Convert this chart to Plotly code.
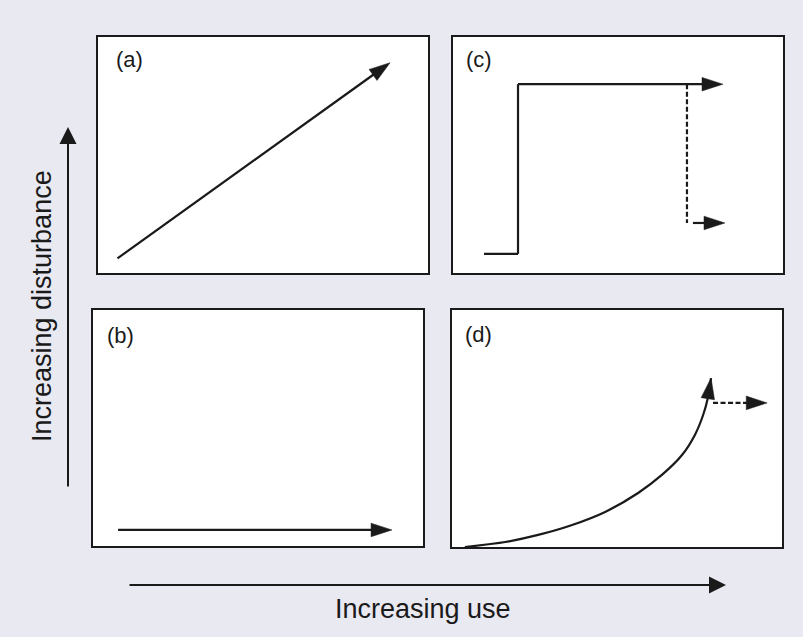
import plotly.graph_objects as go

# panel curves, in each panel's own 0-10 units
A_X = [0.59, 8.85]
A_Y = [0.62, 8.91]
B_X = [0.76, 9.06]
B_Y = [0.68, 0.68]
C_STEP_X = [0.94, 1.97, 1.97, 8.18]
C_STEP_Y = [0.81, 0.81, 8.0, 8.0]
C_DROP_X = [7.09, 7.09]
C_DROP_Y = [8.0, 2.12]
C_LOW_X = [7.27, 8.24]
C_LOW_Y = [2.12, 2.12]
D_CURVE_X = [0.39, 1.61, 2.61, 3.64, 4.64, 5.64, 6.36, 6.97, 7.36, 7.61, 7.76, 7.85]
D_CURVE_Y = [0.0, 0.21, 0.51, 0.93, 1.48, 2.28, 3.04, 3.88, 4.73, 5.57, 6.33, 7.13]
D_SHIFT_X = [7.91, 9.55]
D_SHIFT_Y = [6.08, 6.08]

PANEL_LABELS = ["(a)", "(b)", "(c)", "(d)"]
X_TITLE = "Increasing use"
Y_TITLE = "Increasing disturbance"

INK = "#1a1a1a"
BG = "#e9e9f1"
W, H = 803, 637


def arrow_line(xs, ys, axis, dash="solid", spline=False, head=True):
    n = len(xs)
    return go.Scatter(
        x=xs, y=ys, xaxis="x" + axis, yaxis="y" + axis,
        mode="lines+markers" if head else "lines",
        line=dict(color=INK, width=2.2, dash=dash, shape="spline" if spline else "linear"),
        marker=dict(symbol="arrow", size=[0] * (n - 1) + [22], angleref="previous",
                    color=INK, opacity=1, line=dict(width=0.5, color=INK)),
        hoverinfo="skip", showlegend=False,
    )


fig = go.Figure()
fig.add_trace(arrow_line(A_X, A_Y, ""))
fig.add_trace(arrow_line(B_X, B_Y, "3"))
fig.add_trace(arrow_line(C_STEP_X, C_STEP_Y, "2"))
fig.add_trace(arrow_line(C_DROP_X, C_DROP_Y, "2", dash="5px,2.5px", head=False))
fig.add_trace(arrow_line(C_LOW_X, C_LOW_Y, "2"))
fig.add_trace(arrow_line(D_CURVE_X, D_CURVE_Y, "4", spline=True))
fig.add_trace(arrow_line(D_SHIFT_X, D_SHIFT_Y, "4", dash="5px,2.5px"))

# panel boxes in pixels: (left, top, right, bottom)
boxes = {
    "": (98, 37, 428, 273),
    "2": (453, 37, 783, 273),
    "3": (93, 310, 423, 546),
    "4": (452, 310, 782, 547),
}
ax_style = dict(range=[0, 10], showgrid=False, zeroline=False, showticklabels=False,
                ticks="", showline=True, mirror=True, linewidth=2, linecolor=INK,
                fixedrange=True)
layout_axes = {}
for k, (l, t, r, b) in boxes.items():
    layout_axes["xaxis" + k] = dict(ax_style, domain=[l / W, r / W], anchor="y" + k)
    layout_axes["yaxis" + k] = dict(ax_style, domain=[1 - b / H, 1 - t / H], anchor="x" + k)

annotations = []
label_pos = [("", 0.94, 9.03), ("3", 0.82, 8.94), ("2", 0.79, 9.03), ("4", 0.79, 8.95)]
for text, (k, lx, ly) in zip(PANEL_LABELS, label_pos):
    annotations.append(dict(text=text, x=lx, y=ly, xref="x" + k, yref="y" + k,
                            showarrow=False, font=dict(size=22, color=INK)))

# outer axis arrows
annotations.append(dict(x=68 / W, y=1 - 127 / H, xref="paper", yref="paper",
                        ax=0, ay=361, showarrow=True, arrowhead=2, arrowsize=1.7,
                        arrowwidth=2, arrowcolor=INK, text=""))
annotations.append(dict(x=726 / W, y=1 - 585 / H, xref="paper", yref="paper",
                        ax=-598, ay=0, showarrow=True, arrowhead=2, arrowsize=1.7,
                        arrowwidth=2, arrowcolor=INK, text=""))
annotations.append(dict(text=Y_TITLE, x=42 / W, y=1 - 306 / H, xref="paper", yref="paper",
                        xanchor="center", yanchor="middle",
                        textangle=-90, showarrow=False, font=dict(size=27, color=INK)))
annotations.append(dict(text=X_TITLE, x=423 / W, y=1 - 609 / H, xref="paper", yref="paper",
                        xanchor="center", yanchor="middle",
                        showarrow=False, font=dict(size=27, color=INK)))

fig.update_layout(
    width=W, height=H,
    margin=dict(l=0, r=0, t=0, b=0),
    paper_bgcolor=BG, plot_bgcolor="white",
    font=dict(family="Liberation Sans, Arial, sans-serif"),
    annotations=annotations,
    **layout_axes,
)

fig.write_html("out.html", config={"displayModeBar": False, "staticPlot": True},
               post_script="document.body.style.margin='0';document.body.style.overflow='hidden';")
